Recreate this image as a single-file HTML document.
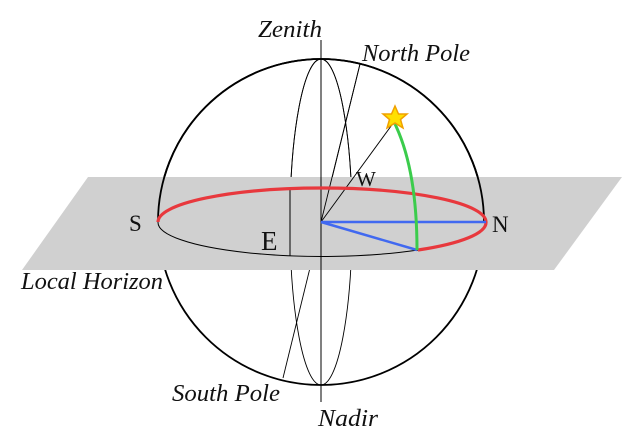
<!DOCTYPE html>
<html><head><style>body{margin:0;background:#fff}svg{display:block}</style></head><body>
<svg width="640" height="446" viewBox="0 0 640 446" xmlns="http://www.w3.org/2000/svg">
<defs>
<clipPath id="up"><rect x="0" y="0" width="640" height="222"/></clipPath>
<clipPath id="up2"><rect x="0" y="0" width="640" height="177"/></clipPath>
</defs>
<rect width="640" height="446" fill="#fff"/>
<circle cx="321" cy="222" r="163" fill="none" stroke="#000" stroke-width="1.8"/>
<ellipse cx="321" cy="222" rx="31" ry="163" fill="none" stroke="#000" stroke-width="0.9"/>
<line x1="283" y1="378" x2="360" y2="64" stroke="#000" stroke-width="0.9"/>
<line x1="321" y1="40" x2="321" y2="402" stroke="#000" stroke-width="1"/>
<polygon points="88,177 622,177 554,270 22,270" fill="#d0d0d0"/>
<g clip-path="url(#up)">
<circle cx="321" cy="222" r="163" fill="none" stroke="#000" stroke-width="1.8"/>
</g>
<g clip-path="url(#up2)">
<ellipse cx="321" cy="222" rx="31" ry="163" fill="none" stroke="#000" stroke-width="0.9"/>
</g>
<line x1="321" y1="222" x2="360" y2="64" stroke="#000" stroke-width="0.9"/>
<line x1="321" y1="40" x2="321" y2="402" stroke="#000" stroke-width="1"/>
<line x1="290" y1="190" x2="290" y2="256" stroke="#000" stroke-width="1"/>
<line x1="321" y1="222" x2="394" y2="122" stroke="#000" stroke-width="0.9"/>
<path d="M158,222 A164,34 0 0 0 418,250" fill="none" stroke="#000" stroke-width="1"/>
<path d="M158,222 A164,34 0 0 1 486,222 A164,34 0 0 1 418,250" fill="none" stroke="#e8383d" stroke-width="3.2"/>
<line x1="321" y1="222" x2="486" y2="222" stroke="#4169f0" stroke-width="2.5"/>
<line x1="321" y1="222" x2="417" y2="250" stroke="#4169f0" stroke-width="2.5"/>
<path d="M395,124 Q417,170 417,250" fill="none" stroke="#3bcc4c" stroke-width="3"/>
<polygon points="395,106 398.5,114 407,114 400.5,119.5 403,128 395,123 387,128 389.5,119.5 383,114 391.5,114" fill="#ffe000" stroke="#f0a000" stroke-width="1.5"/>
<g font-family="'Liberation Serif',serif" fill="#111">
<text x="258" y="37" font-size="24" font-style="italic" textLength="64" lengthAdjust="spacingAndGlyphs">Zenith</text>
<text x="362" y="61" font-size="24" font-style="italic" textLength="108" lengthAdjust="spacingAndGlyphs">North Pole</text>
<text x="356" y="186" font-size="21">W</text>
<text x="129" y="231" font-size="23">S</text>
<text x="492" y="232" font-size="23">N</text>
<text x="261" y="250" font-size="27">E</text>
<text x="21" y="289" font-size="24" font-style="italic" textLength="142" lengthAdjust="spacingAndGlyphs">Local Horizon</text>
<text x="172" y="401" font-size="24" font-style="italic" textLength="108" lengthAdjust="spacingAndGlyphs">South Pole</text>
<text x="318" y="426" font-size="24" font-style="italic" textLength="60" lengthAdjust="spacingAndGlyphs">Nadir</text>
</g>
</svg>
</body></html>
